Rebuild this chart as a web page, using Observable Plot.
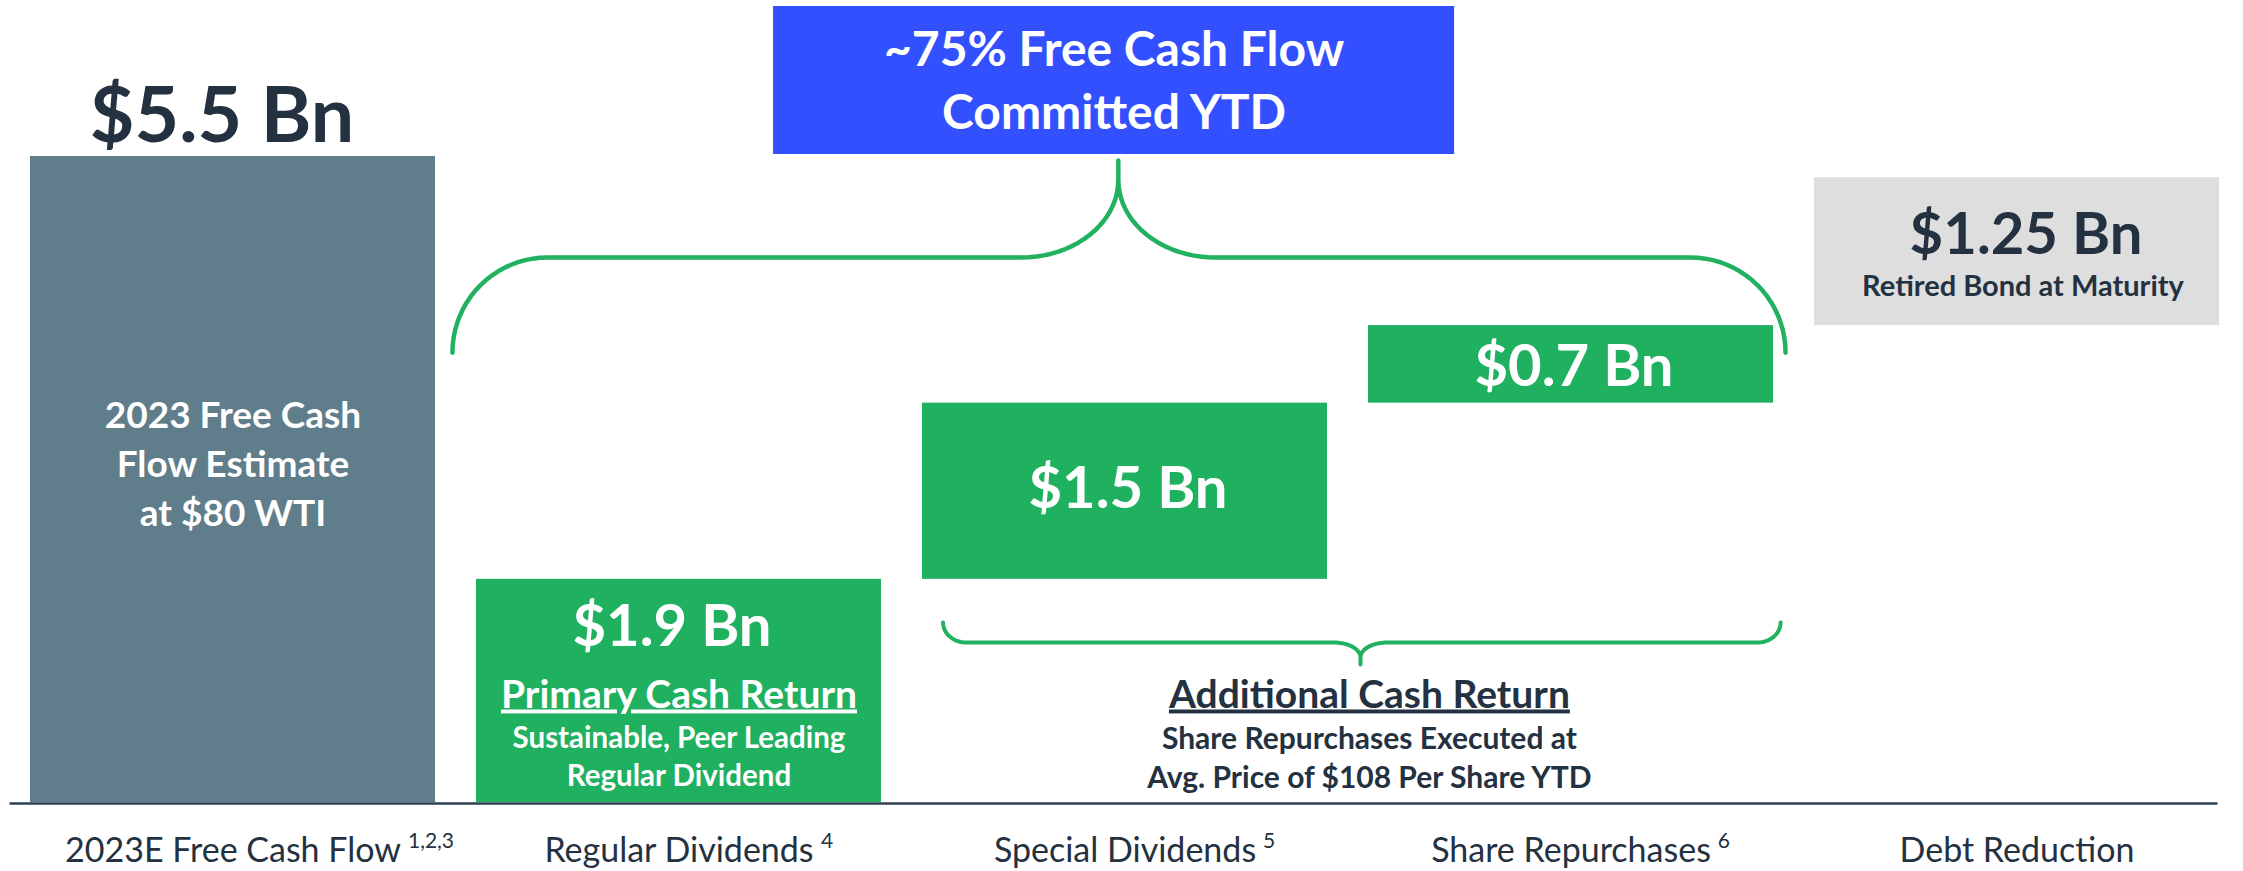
<!DOCTYPE html>
<html>
<head>
<meta charset="utf-8">
<script src="https://cdn.jsdelivr.net/npm/d3@7"></script>
<script src="https://cdn.jsdelivr.net/npm/@observablehq/plot@0.6"></script>
<style>
  html, body { margin: 0; padding: 0; background: #ffffff; }
  #chart { width: 2243px; height: 871px; overflow: hidden; }
</style>
</head>
<body>
<div id="chart"></div>
<script>
// ---------------- data ----------------
const categories = ["2023E Free Cash Flow", "Regular Dividends", "Special Dividends", "Share Repurchases", "Debt Reduction"];
const footnotes = ["1,2,3", "4", "5", "6", ""];
const values = [5.5, 1.9, 1.5, 0.66, 1.26];              // $ Bn (bar heights)
const valueLabels = ["$5.5 Bn", "$1.9 Bn", "$1.5 Bn", "$0.7 Bn", "$1.25 Bn"];
const barKinds = ["total", "return", "return", "return", "debt"];
const totalNote = ["2023 Free Cash", "Flow Estimate", "at $80 WTI"];
const primaryTitle = "Primary Cash Return";
const primaryNotes = ["Sustainable, Peer Leading", "Regular Dividend"];
const additionalTitle = "Additional Cash Return";
const additionalNotes = ["Share Repurchases Executed at", "Avg. Price of $108 Per Share YTD"];
const debtNote = "Retired Bond at Maturity";
const headline = ["~75% Free Cash Flow", "Committed YTD"];

// ---------------- styles / layout ----------------
const W = 2243, H = 871;
const M = {top: 0, right: 3.5, bottom: 69, left: 9.5};
const yMax = 6.828;
const FONT = "Lato, 'Open Sans', sans-serif";
const DARK = "#243140";
const kindColor = {total: "#607d8b", return: "#1fb060", debt: "#dedede"};
const labelColor = {total: DARK, return: "#ffffff", debt: DARK};
const GREEN = "#21b160";
const BLUE = "#3350ff";
const labelDy = [-14, 67, 105, 60, 76];   // px from bar top to label baseline
const labelDx = [-11, -7, 3, 3, 9];
const labelSize = [77, 58, 58, 58, 58];

// annotation geometry in data units (x: category index, y: $ Bn)
const headlineBox = {x1: 1.212, x2: 2.739, y1: 5.517, y2: 6.777};
const bigBrace = {xL: 0.492, xR: 3.481, xC: 1.985, yTip: 3.83, yBar: 4.64, yS: 5.30, yApex: 5.466, rxE: 0.213, rxC: 0.2175};
const smallBrace = {xL: 1.592, xR: 3.470, xC: 2.528, yTip: 1.533, yBar: 1.362, yS: 1.235, yApex: 1.175, rxE: 0.052, rxC: 0.06};

// ---------------- derived table ----------------
const rows = categories.map((name, i) => {
  const base = i === 0 ? 0 : d3.sum(values.slice(1, i));
  return {i, name, note: footnotes[i], value: values[i], label: valueLabels[i], kind: barKinds[i], base, top: base + values[i]};
});

function bracePoints(b) {
  const n = 20, pts = [], Q = Math.PI / 2;
  for (let k = 0; k <= n; k++) { const p = Q * k / n; pts.push([b.xL + b.rxE * (1 - Math.cos(p)), b.yTip + (b.yBar - b.yTip) * Math.sin(p)]); }
  for (let k = 0; k <= n; k++) { const p = Q * k / n; pts.push([b.xC - b.rxC + b.rxC * Math.sin(p), b.yS + (b.yBar - b.yS) * Math.cos(p)]); }
  pts.push([b.xC, b.yApex]);
  for (let k = 0; k <= n; k++) { const p = Q * k / n; pts.push([b.xC + b.rxC * (1 - Math.cos(p)), b.yS + (b.yBar - b.yS) * Math.sin(p)]); }
  for (let k = 0; k <= n; k++) { const p = Q * k / n; pts.push([b.xR - b.rxE + b.rxE * Math.sin(p), b.yBar + (b.yTip - b.yBar) * (1 - Math.cos(p))]); }
  return pts;
}

// superscript placement from measured tick label widths
const pxPerX = (W - M.left - M.right) / categories.length;
const ctx = document.createElement("canvas").getContext("2d");
ctx.font = `34px Lato`;
const supRows = rows.filter(d => d.note).map(d => ({...d, xs: d.i + (ctx.measureText(d.name).width / 2 + 7) / pxPerX}));

const valueMarks = rows.map(d => Plot.text([d], {
  x: "i", y: "top", text: "label", dy: labelDy[d.i], dx: labelDx[d.i],
  fontSize: labelSize[d.i], fontWeight: "bold", fill: labelColor[d.kind], lineAnchor: "bottom"
}));

const chart = Plot.plot({
  width: W, height: H,
  marginTop: M.top, marginRight: M.right, marginBottom: M.bottom, marginLeft: M.left,
  x: {domain: [-0.5, 4.5], axis: null},
  y: {domain: [0, yMax], axis: null},
  color: {type: "identity"},
  style: {fontFamily: FONT, background: "#ffffff", overflow: "visible"},
  marks: [
    Plot.rect([headlineBox], {x1: "x1", x2: "x2", y1: "y1", y2: "y2", fill: BLUE}),
    Plot.rectY(rows, {x1: d => d.i - 0.5, x2: d => d.i + 0.5, y1: "base", y2: "top", fill: d => kindColor[d.kind], insetLeft: 20.5, insetRight: 20.5}),
    Plot.ruleY([0], {stroke: "#2d3e50", strokeWidth: 2.5, dy: 1, insetLeft: 0, insetRight: 22}),
    Plot.line(bracePoints(bigBrace), {x: d => d[0], y: d => d[1], stroke: GREEN, strokeWidth: 4.5, strokeLinejoin: "round"}),
    Plot.line(bracePoints(smallBrace), {x: d => d[0], y: d => d[1], stroke: GREEN, strokeWidth: 4, strokeLinejoin: "round"}),
    ...valueMarks,
    Plot.text([headline.join("\n")], {x: (headlineBox.x1 + headlineBox.x2) / 2, y: 0, dy: -674, text: d => d, fontSize: 48, fontWeight: "bold", fill: "#ffffff", lineHeight: 63 / 48, lineAnchor: "bottom"}),
    Plot.text([totalNote.join("\n")], {x: 0, y: 0, dy: -277, text: d => d, fontSize: 37, fontWeight: "bold", fill: "#ffffff", lineHeight: 49 / 37, lineAnchor: "bottom"}),
    Plot.text([primaryTitle], {x: 1, y: 0, dy: -95, text: d => d, fontSize: 39, fontWeight: "bold", fill: "#ffffff", lineAnchor: "bottom"}),
    Plot.text([primaryNotes.join("\n")], {x: 1, y: 0, dy: -17, text: d => d, fontSize: 29.5, fontWeight: "bold", fill: "#ffffff", lineHeight: 38 / 29.5, lineAnchor: "bottom"}),
    Plot.text([additionalTitle], {x: 2.548, y: 0, dy: -95, text: d => d, fontSize: 39, fontWeight: "bold", fill: DARK, lineAnchor: "bottom"}),
    Plot.text([additionalNotes.join("\n")], {x: 2.548, y: 0, dy: -15, text: d => d, fontSize: 30, fontWeight: "bold", fill: DARK, lineHeight: 39 / 30, lineAnchor: "bottom"}),
    Plot.text([debtNote], {x: 4, y: 0, dy: -507, dx: 6, text: d => d, fontSize: 29, fontWeight: "bold", fill: DARK, lineAnchor: "bottom"}),
    Plot.text(rows, {x: "i", y: 0, dy: 59, text: "name", fontSize: 34, fill: DARK, lineAnchor: "bottom"}),
    Plot.text(supRows, {x: "xs", y: 0, dy: 45, text: "note", fontSize: 21, fill: DARK, textAnchor: "start", lineAnchor: "bottom"})
  ]
});

// underline the two section titles
chart.querySelectorAll("text").forEach(t => {
  if (t.textContent === primaryTitle || t.textContent === additionalTitle) {
    t.style.textDecoration = "underline";
  }
});
document.getElementById("chart").appendChild(chart);
</script>
</body>
</html>
